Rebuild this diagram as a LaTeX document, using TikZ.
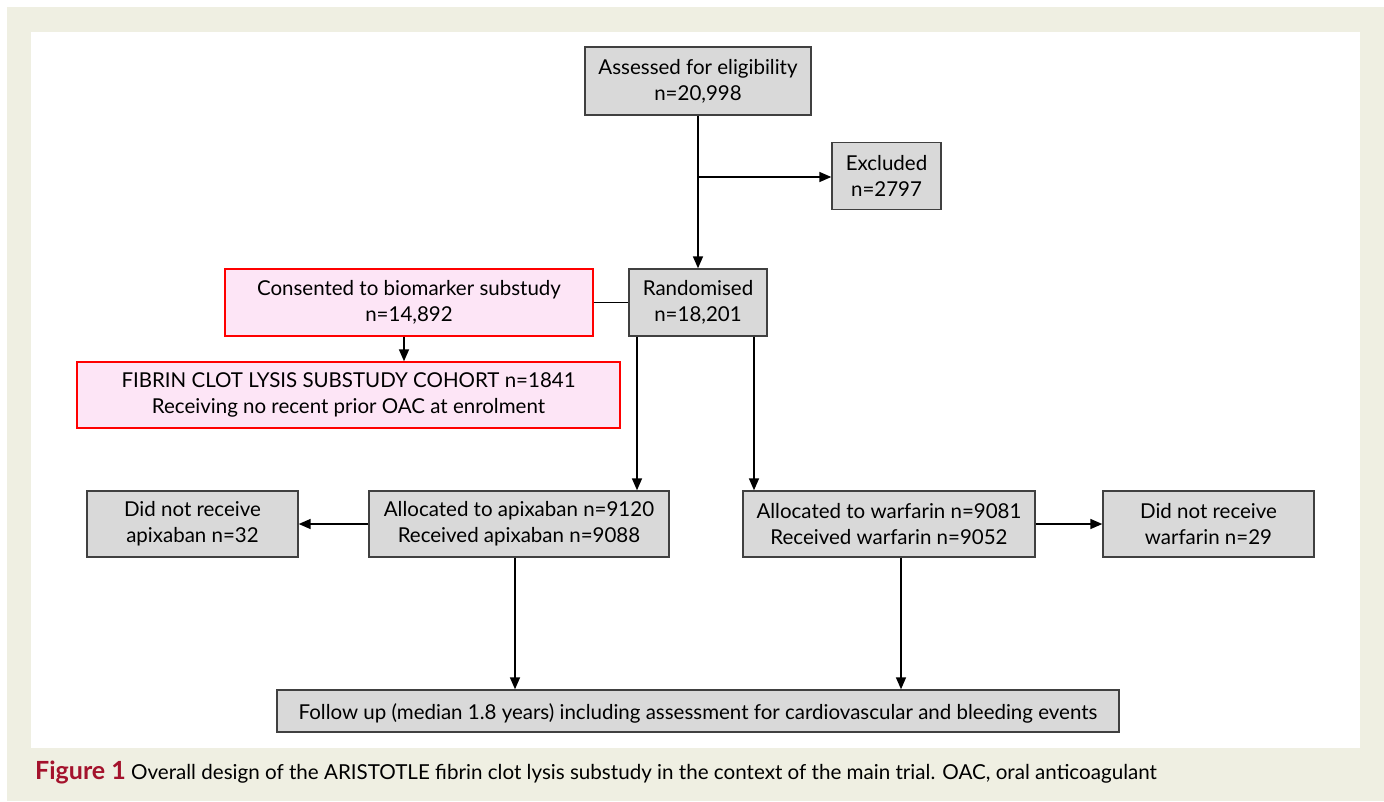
\documentclass[tikz,border=0pt]{standalone}
\usepackage{fontspec}
\setmainfont{Lato}
\usetikzlibrary{arrows.meta}
\definecolor{framebg}{HTML}{EFEFE2}
\definecolor{boxgray}{HTML}{D9D9D9}
\definecolor{boxline}{HTML}{404040}
\definecolor{boxpink}{HTML}{FDE5F6}
\definecolor{figred}{HTML}{A4122C}
\begin{document}
\begin{tikzpicture}[x=1pt,y=-1pt,
  box/.style={draw=boxline, fill=boxgray, line width=1.4pt, align=center, inner sep=0pt, font=\fontsize{20.5}{26}\selectfont, execute at begin node={\rule{0pt}{21pt}}},
  pinkbox/.style={box, draw=red, fill=boxpink},
  arr/.style={-{Triangle[width=10pt,length=12pt]}, line width=1.6pt},
  ln/.style={line width=1.6pt}]
\useasboundingbox (0,0) rectangle (1384,801);
\fill[white] (0,0) rectangle (1384,801);
\fill[framebg] (7,7) rectangle (1384,801);
\fill[white] (31,32) rectangle (1360,748);

\node[box, minimum width=226pt, minimum height=68pt] (assess) at (698,81) {Assessed for eligibility\\n=20,998};
\node[box, minimum width=109pt, minimum height=67pt] (excl) at (886.5,176) {Excluded\\n=2797};
\node[box, minimum width=138pt, minimum height=67pt] (rand) at (698,302.5) {Randomised\\n=18,201};
\node[pinkbox, minimum width=368pt, minimum height=67pt] (cons) at (409,302.5) {Consented to biomarker substudy\\n=14,892};
\node[pinkbox, minimum width=543pt, minimum height=66pt] (fib) at (348.5,395) {FIBRIN CLOT LYSIS SUBSTUDY COHORT n=1841\\Receiving no recent prior OAC at enrolment};
\node[box, minimum width=300pt, minimum height=66pt] (apx) at (519,524) {Allocated to apixaban n=9120\\Received apixaban n=9088};
\node[box, minimum width=211pt, minimum height=66pt] (dnap) at (192.5,524) {Did not receive\\apixaban n=32};
\node[box, minimum width=292pt, minimum height=66pt] (war) at (889,524) {Allocated to warfarin n=9081\\Received warfarin n=9052};
\node[box, minimum width=211pt, minimum height=66pt] (dnw) at (1208.5,524) {Did not receive\\warfarin n=29};
\node[box, minimum width=842pt, minimum height=42pt] (fu) at (698,711) {Follow up (median 1.8 years) including assessment for cardiovascular and bleeding events};

\coordinate (exj) at (698,177);
\draw[arr] (assess.south) -- (rand.north);
\draw[arr] (exj) -- (exj -| excl.west);
\draw[ln] (cons.east) -- (rand.west);
\draw[arr] ([xshift=-5pt]cons.south) -- ([xshift=-5pt]cons.south |- fib.north);
\draw[arr] ([xshift=-61pt]rand.south) -- ([xshift=-61pt]rand.south |- apx.north);
\draw[arr] ([xshift=56pt]rand.south) -- ([xshift=56pt]rand.south |- war.north);
\draw[arr] (apx.west) -- (dnap.east);
\draw[arr] (war.east) -- (dnw.west);
\draw[arr] ([xshift=-4pt]apx.south) -- ([xshift=-4pt]apx.south |- fu.north);
\draw[arr] ([xshift=12pt]war.south) -- ([xshift=12pt]war.south |- fu.north);

\node[anchor=base west, inner sep=0pt, font=\fontsize{20.6}{21}\selectfont] (cap) at (35,779) {\textcolor{figred}{\fontsize{25}{25}\selectfont\textbf{Figure 1}} Overall design of the ARISTOTLE fibrin clot lysis substudy in the context of the main trial. OAC, oral anticoagulant};
\end{tikzpicture}
\end{document}
